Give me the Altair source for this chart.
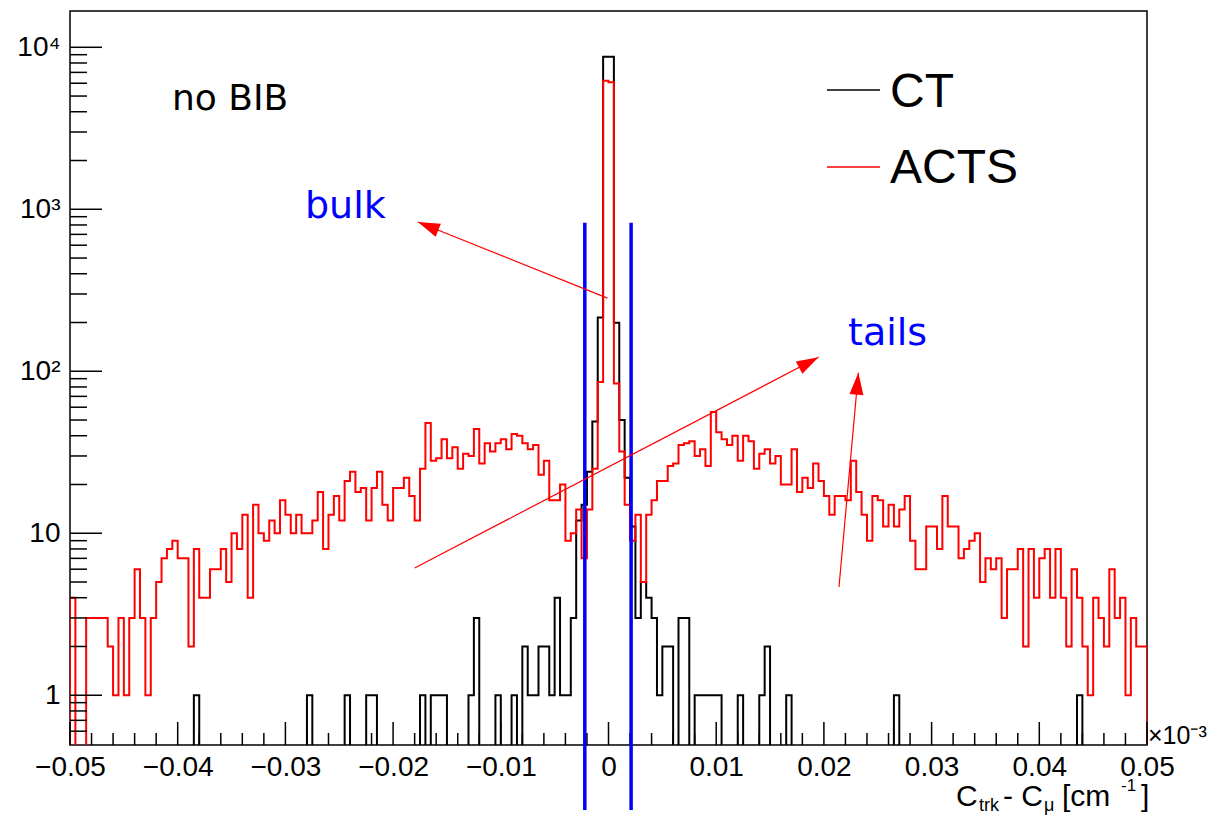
import altair as alt
import pandas as pd

# ---------------- data ----------------
N_BINS = 200
X_MIN, X_MAX = -0.05, 0.05
BIN_W = (X_MAX - X_MIN) / N_BINS

CT = [
    0, 0, 0, 0, 0, 0, 0, 0, 0, 0,
    0, 0, 0, 0, 0, 0, 0, 0, 0, 0,
    0, 0, 0, 1, 0, 0, 0, 0, 0, 0,
    0, 0, 0, 0, 0, 0, 0, 0, 0, 0,
    0, 0, 0, 0, 1, 0, 0, 0, 0, 0,
    0, 1, 0, 0, 0, 1, 1, 0, 0, 0,
    0, 0, 0, 0, 0, 1, 0, 1, 1, 1,
    0, 0, 0, 0, 1, 3, 0, 0, 0, 1,
    0, 0, 1, 0, 2, 1, 1, 2, 2, 1,
    4, 1, 1, 3, 12, 15, 24, 49, 215, 8750,
    8750, 199, 50, 22, 11, 3, 5, 4, 3, 1,
    2, 2, 0, 3, 3, 0, 1, 1, 1, 1,
    1, 0, 0, 0, 1, 0, 0, 0, 1, 2,
    0, 0, 0, 1, 0, 0, 0, 0, 0, 0,
    0, 0, 0, 0, 0, 0, 0, 0, 0, 0,
    0, 0, 0, 1, 0, 0, 0, 0, 0, 0,
    0, 0, 0, 0, 0, 0, 0, 0, 0, 0,
    0, 0, 0, 0, 0, 0, 0, 0, 0, 0,
    0, 0, 0, 0, 0, 0, 0, 1, 0, 0,
    0, 0, 0, 0, 0, 0, 0, 0, 0, 0,
]

ACTS = [
    4, 0, 0, 3, 3, 3, 3, 2, 1, 3,
    1, 3, 6, 3, 1, 3, 5, 7, 8, 9,
    7, 7, 2, 8, 4, 4, 6, 6, 8, 5,
    10, 8, 13, 4, 15, 10, 9, 12, 10, 16,
    13, 10, 13, 10, 10, 12, 18, 8, 13, 17,
    12, 21, 24, 18, 19, 12, 19, 24, 15, 12,
    19, 19, 22, 17, 12, 25, 48, 28, 29, 38,
    29, 34, 25, 31, 30, 44, 27, 36, 32, 36,
    38, 33, 41, 40, 36, 33, 35, 23, 28, 16,
    16, 20, 9, 10, 14, 7, 14, 25, 86, 6220,
    6085, 84, 32, 15, 9, 13, 5, 13, 16, 21,
    21, 26, 27, 35, 36, 37, 30, 33, 26, 56,
    42, 38, 35, 40, 28, 40, 37, 25, 31, 33,
    27, 30, 20, 20, 33, 18, 22, 19, 27, 21,
    17, 13, 17, 17, 16, 28, 18, 13, 9, 17,
    16, 11, 15, 11, 14, 17, 9, 6, 6, 11,
    11, 8, 17, 11, 11, 7, 8, 9, 10, 5,
    7, 6, 7, 3, 6, 6, 8, 2, 8, 4,
    7, 8, 4, 8, 4, 2, 6, 4, 2, 1,
    4, 3, 2, 6, 3, 4, 1, 3, 2, 2,
]

X_MAJOR = [-0.05, -0.04, -0.03, -0.02, -0.01, 0.0, 0.01, 0.02, 0.03, 0.04, 0.05]
X_MINOR = [round(-0.05 + 0.002 * i, 4) for i in range(51) if i % 5 != 0]
Y_MAJOR = [1, 10, 100, 1000, 10000]
Y_MINOR = [0.6, 0.7, 0.8, 0.9] + [m * d for d in (1, 10, 100, 1000) for m in range(2, 10)]
Y_DOMAIN = [0.493, 16750]

# annotation data
BLUE_X = [-0.0022, 0.0021]
BLUE_TOP = [827, 827]
BLUE_BOTTOM = [0.196, 0.196]

ARROW_X0 = [-0.0001, -0.0180, 0.0214]
ARROW_Y0 = [283, 6.1, 4.66]
ARROW_X1 = [-0.0177, 0.0195, 0.0232]
ARROW_Y1 = [835, 122, 98]
ARROW_ANGLE = [292, 62, 5]

W, H = 1077, 734
FONT = "Liberation Sans"
WIDE = "DejaVu Sans"

xscale = alt.Scale(domain=[X_MIN, X_MAX], nice=False, zero=False)
yscale = alt.Scale(type="log", domain=Y_DOMAIN, nice=False)

x_label_expr = ("datum.value == 0 ? '0' : (datum.value < 0 ? '\u2212' : '') + "
                "format(abs(datum.value), '.2f')")
y_label_expr = ("datum.value == 1 ? '1' : datum.value == 10 ? '10' : datum.value == 100 ? '10\u00b2' : "
                "datum.value == 1000 ? '10\u00b3' : '10\u2074'")

X_AXIS = alt.Axis(values=X_MAJOR, labelExpr=x_label_expr, ticks=False, domain=False, grid=False,
                  labelFontSize=28, labelFont=FONT, labelColor="black", labelPadding=8,
                  labelFlush=False, labelOverlap=False, title=None)
Y_AXIS = alt.Axis(values=Y_MAJOR, labelExpr=y_label_expr, ticks=False, domain=False, grid=False,
                  labelFontSize=28, labelFont=FONT, labelColor="black", labelPadding=10,
                  labelOverlap=False, title=None)


def step_frame(values):
    edges = [X_MIN + i * BIN_W for i in range(N_BINS + 1)]
    floor = 0.3
    ys = [v if v > 0 else floor for v in values]
    xs = [edges[0]] + edges[:N_BINS] + [edges[N_BINS], edges[N_BINS]]
    yv = [floor] + ys + [ys[-1], floor]
    return pd.DataFrame({"x": xs, "y": yv, "o": list(range(len(xs)))})


def hist(values, color):
    return alt.Chart(step_frame(values)).mark_line(
        interpolate="step-after", clip=True, color=color, strokeWidth=2
    ).encode(
        x=alt.X("x:Q", scale=xscale, axis=X_AXIS),
        y=alt.Y("y:Q", scale=yscale, axis=Y_AXIS),
        order="o:Q",
    )


ct_line = hist(CT, "#000000")
acts_line = hist(ACTS, "#ff0000")


# inward ticks (ROOT style)
def yticks(vals, length):
    return alt.Chart(pd.DataFrame({"v": vals})).mark_rule(color="black", strokeWidth=1.5).encode(
        y=alt.Y("v:Q", scale=yscale, axis=Y_AXIS), x=alt.value(0), x2=alt.value(length))


def xticks(vals, length):
    return alt.Chart(pd.DataFrame({"v": vals})).mark_rule(color="black", strokeWidth=1.5).encode(
        x=alt.X("v:Q", scale=xscale, axis=X_AXIS), y=alt.value(H), y2=alt.value(H - length))


blue = alt.Chart(pd.DataFrame({"x": BLUE_X, "y": BLUE_TOP, "y2": BLUE_BOTTOM})).mark_rule(
    color="#0000ff", strokeWidth=3.5, clip=False
).encode(x=alt.X("x:Q", scale=xscale, axis=X_AXIS),
         y=alt.Y("y:Q", scale=yscale, axis=Y_AXIS), y2="y2:Q")

arrows_df = pd.DataFrame({"x0": ARROW_X0, "y0": ARROW_Y0, "x1": ARROW_X1, "y1": ARROW_Y1, "a": ARROW_ANGLE})
arrow_lines = alt.Chart(arrows_df).mark_rule(color="#ff0000", strokeWidth=1.2).encode(
    x=alt.X("x0:Q", scale=xscale, axis=X_AXIS), x2="x1:Q",
    y=alt.Y("y0:Q", scale=yscale, axis=Y_AXIS), y2="y1:Q")
arrow_heads = alt.Chart(arrows_df).mark_point(
    shape="M0,0L0.7,2.2L-0.7,2.2Z", filled=True, color="#ff0000", opacity=1, size=400, strokeWidth=0
).encode(
    x=alt.X("x1:Q", scale=xscale, axis=X_AXIS),
    y=alt.Y("y1:Q", scale=yscale, axis=Y_AXIS),
    angle=alt.Angle("a:Q", scale=None))


def label(text, x, y, size, color="black", align="left", font=FONT):
    return alt.Chart(pd.DataFrame({"t": [text]})).mark_text(
        font=font, fontSize=size, color=color, align=align, baseline="alphabetic"
    ).encode(text="t:N", x=alt.value(x), y=alt.value(y))


def legend_line(color, y):
    return alt.Chart(pd.DataFrame({"c": [color]})).mark_rule(strokeWidth=1.5, color=color).encode(
        x=alt.value(757), x2=alt.value(810), y=alt.value(y))


texts = [
    label("no BIB", 102, 99, 36, font=WIDE),
    label("CT", 820, 96, 48),
    label("ACTS", 820, 172, 48),
    label("bulk", 235, 207, 38, color="#0000ff", font=WIDE),
    label("tails", 778, 334, 38, color="#0000ff", font=WIDE),
    label("\u00d710\u207b\u00b3", 1078, 733, 25),
    # axis title C_trk - C_mu [cm^-1]
    label("C", 886, 795, 30),
    label("trk", 909, 800, 18),
    label("- C", 933, 795, 30),
    label("\u03bc", 974, 800, 18),
    label("[cm", 992, 795, 30),
    label("-1", 1051, 780, 17),
    label("]", 1071, 795, 30),
]

chart = alt.layer(
    ct_line, acts_line,
    yticks(Y_MAJOR, 32), yticks(Y_MINOR, 17),
    xticks(X_MAJOR, 23), xticks(X_MINOR, 12),
    blue, arrow_lines, arrow_heads,
    legend_line("#000000", 79), legend_line("#ff0000", 156),
    *texts,
).properties(
    width=W, height=H,
    autosize=alt.AutoSizeParams(type="none"),
    padding={"left": 62, "top": 3, "right": 68, "bottom": 71},
    background="white",
).configure_view(stroke="black", strokeWidth=1.5)

chart.save("out.html", embed_options={"renderer": "svg", "actions": False})
